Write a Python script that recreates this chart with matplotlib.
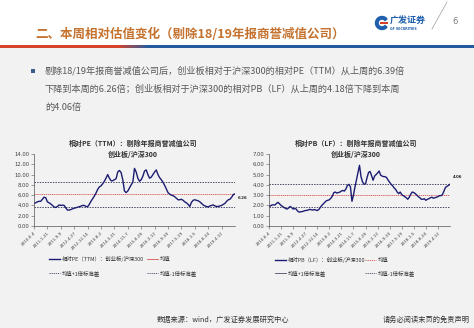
import numpy as np
import matplotlib
matplotlib.use('Agg')
import matplotlib.pyplot as plt
from matplotlib.patches import Rectangle, Wedge

plt.rcParams['font.family'] = ['Noto Sans CJK SC', 'DejaVu Sans']

W, H = 474, 328

# x tick labels (every 33 weeks)
tick_labels = ['2010-6-4', '2011-1-21', '2011-9-9', '2012-4-27', '2012-12-14',
               '2013-8-2', '2014-3-21', '2014-11-7', '2015-6-26', '2016-2-12',
               '2016-9-30', '2017-5-19', '2018-1-5', '2018-8-24', '2019-4-12']

# relative PE (TTM), ChiNext / CSI300
pe_values = [4.4, 4.5, 4.7, 4.8, 4.8, 5.2, 5.6, 5.5, 4.7, 4.5,
             4.3, 4.0, 3.7, 3.6, 3.8, 4.1, 4.0, 4.05, 4.0, 3.5,
             3.1, 3.1, 3.2, 3.35, 3.45, 3.55, 3.65, 3.75, 3.85, 4.0,
             4.0, 3.8, 3.75, 4.2, 4.8, 5.3, 5.8, 6.4, 7.1, 7.6,
             7.8, 8.2, 8.7, 9.3, 10.0, 9.3, 8.8, 8.8, 9.0, 9.2,
             10.5, 10.8, 10.4, 9.0, 6.8, 6.5, 6.8, 7.4, 8.0, 8.5,
             11.2, 10.5, 9.3, 8.7, 9.0, 9.7, 10.7, 10.9, 10.0, 9.3,
             9.5, 10.0, 10.5, 10.9, 10.0, 9.4, 9.0, 8.5, 7.9, 7.2,
             6.5, 6.2, 6.0, 5.9, 5.7, 5.4, 5.1, 5.1, 5.2, 5.0,
             4.7, 4.5, 4.2, 3.8, 4.6, 5.0, 5.1, 5.0, 4.9, 4.7,
             4.4, 4.1, 3.9, 3.8, 3.7, 3.9, 4.0, 4.1, 3.9, 3.8,
             3.8, 3.9, 4.0, 4.2, 4.4, 4.8, 5.1, 5.2, 5.6, 6.1, 6.26]
pe_mean, pe_upper, pe_lower = 6.15, 8.5, 3.6

# relative PB (LF)
pb_values = [1.9, 1.95, 2.05, 2.05, 2.05, 2.2, 2.3, 2.15, 2.0, 1.9,
             1.8, 1.7, 1.65, 1.75, 1.9, 1.8, 1.65, 1.7, 1.65, 1.45,
             1.35, 1.38, 1.4, 1.45, 1.5, 1.52, 1.55, 1.62, 1.58, 1.55,
             1.6, 1.55, 1.5, 1.6, 1.8, 2.0, 2.15, 2.3, 2.45, 2.5,
             2.55, 2.7, 2.9, 3.25, 3.3, 3.2, 3.25, 3.3, 3.4, 3.45,
             3.4, 3.6, 3.95, 4.05, 3.8, 2.4, 3.0, 3.8, 4.5, 5.2,
             5.9, 4.8, 4.3, 4.05, 4.1, 4.7, 5.2, 5.3, 4.9, 4.45,
             4.85, 5.0, 5.15, 5.35, 4.95, 4.85, 4.8, 4.8, 4.7, 4.45,
             4.25, 4.05, 3.9, 3.7, 3.55, 3.3, 3.15, 3.3, 3.05, 2.95,
             2.85, 2.75, 2.6, 2.8, 3.1, 3.3, 3.25, 3.15, 3.0, 2.85,
             2.75, 2.6, 2.6, 2.65, 2.5, 2.6, 2.65, 2.75, 2.8, 2.7,
             2.75, 2.8, 2.85, 2.95, 2.95, 3.05, 3.4, 3.75, 3.85, 3.95, 4.06]
pb_mean, pb_upper, pb_lower = 3.0, 4.1, 1.88

navy = '#1c1c72'
red_line = '#d9534f'
std_color = '#4a4a6a'
grey_txt = '#404040'


def px_rect(x0, y0, x1, y1):
    return [x0 / W, 1 - y1 / H, (x1 - x0) / W, (y1 - y0) / H]


def draw_chart(ax, values, mean, upper, lower, ymax, ystep, label_dy):
    n = len(values) - 1
    x = np.arange(len(values))
    ax.set_facecolor('none')
    ax.axhline(upper, color=std_color, lw=0.7, ls=(0, (1.5, 1.2)))
    ax.axhline(lower, color=std_color, lw=0.7, ls=(0, (1.5, 1.2)))
    ax.axhline(mean, color=red_line, lw=0.6, ls=(0, (1.5, 0.8)))
    ax.plot(x, values, color=navy, lw=1.0)
    ax.set_xlim(0, n)
    ax.set_ylim(0, ymax)
    ax.set_yticks(np.arange(0, ymax + 0.01, ystep))
    ax.set_yticklabels(['%.2f' % v for v in np.arange(0, ymax + 0.01, ystep)],
                       fontsize=3.8, color=grey_txt, family='DejaVu Sans')
    pos = np.arange(0, n, 8)
    ax.set_xticks(pos)
    ax.set_xticklabels(tick_labels, rotation=45, ha='right', rotation_mode='anchor',
                       fontsize=3.0, color=grey_txt, family='DejaVu Sans')
    ax.tick_params(axis='both', length=2, width=0.4, pad=1.5, color='#555555')
    for s in ['top', 'right']:
        ax.spines[s].set_visible(False)
    for s in ['left', 'bottom']:
        ax.spines[s].set_linewidth(0.5)
        ax.spines[s].set_color('#555555')
    ax.annotate('%.2f' % values[-1], (n, values[-1]), xytext=(2, label_dy),
                textcoords='offset points', fontsize=2.8, fontweight='bold',
                color='#222222', family='DejaVu Sans', va='center',
                annotation_clip=False)


fig = plt.figure(figsize=(W / 100, H / 100), dpi=100)
fig.patch.set_facecolor('#f2f2f2')

# page overlay in pixel coordinates
bg = fig.add_axes([0, 0, 1, 1], zorder=0)
bg.set_xlim(0, W)
bg.set_ylim(H, 0)
bg.axis('off')
bg.add_patch(Rectangle((0, 0), W, 45, color='white', lw=0))

# header stripe: red to blue
grad = np.linspace(0, 1, 474)
t = np.clip((grad * W - 118) / 30, 0, 1)
red = np.array([0.84, 0.27, 0.17])
blue = np.array([0.14, 0.36, 0.62])
stripe = (red[None, :] * (1 - t)[:, None] + blue[None, :] * t[:, None])[None, :, :]
bg.imshow(stripe, extent=(0, W, 48, 44.5), aspect='auto', interpolation='bilinear')
bg.set_xlim(0, W)
bg.set_ylim(H, 0)

bg.text(35, 34, '二、本周相对估值变化（剔除18/19年报商誉减值公司）', fontsize=9,
        color='#c4722e', fontweight='bold', va='center', ha='left')

# logo and page number
bg.add_patch(Wedge((382, 23), 6.5, 40, 320, width=2.6, color='#1f5fad'))
bg.add_patch(Rectangle((380, 21.8), 8, 2.4, color='#d8402a', lw=0))
bg.text(390, 20, '广发证券', fontsize=6.5, color='#1f5fad', fontweight='bold',
        style='italic', va='center', ha='left')
bg.text(390, 28.5, 'GF SECURITIES', fontsize=2.3, color='#1f5fad', fontweight='bold',
        va='center', ha='left', family='DejaVu Sans')
bg.plot([447, 432], [2, 29], color='#aaaaaa', lw=0.6)
bg.text(455, 22, '6', fontsize=6, color='#7f7f7f', va='center', ha='center',
        family='DejaVu Sans')

# bullet text
bg.add_patch(Rectangle((31, 69), 4, 4, color='#3b5b8e', lw=0))
lines = ['剔除18/19年报商誉减值公司后，创业板相对于沪深300的相对PE（TTM）从上周的6.39倍',
         '下降到本周的6.26倍；创业板相对于沪深300的相对PB（LF）从上周的4.18倍下降到本周',
         '的4.06倍']
for i, s in enumerate(lines):
    bg.text(45, 71 + i * 18.3, s, fontsize=6.6, color='#595959', va='center', ha='left')

# chart titles
bg.text(133, 143, '相对PE（TTM）：剔除年报商誉减值公司', fontsize=5, color='#333333',
        fontweight='bold', ha='center', va='center')
bg.text(133, 154, '创业板/沪深300', fontsize=5, color='#333333', fontweight='bold',
        ha='center', va='center')
bg.text(356, 143, '相对PB（LF）：剔除年报商誉减值公司', fontsize=5, color='#333333',
        fontweight='bold', ha='center', va='center')
bg.text(356, 154, '创业板/沪深300', fontsize=5, color='#333333', fontweight='bold',
        ha='center', va='center')

ax1 = fig.add_axes(px_rect(34, 154, 235, 226), zorder=1)
draw_chart(ax1, pe_values, pe_mean, pe_upper, pe_lower, 14, 2, -3)
ax2 = fig.add_axes(px_rect(269, 154, 450, 226), zorder=1)
draw_chart(ax2, pb_values, pb_mean, pb_upper, pb_lower, 7, 1, 5)

# legends drawn by hand
def legend_item(x, y, text, color, lw, ls):
    bg.plot([x, x + 11], [y, y], color=color, lw=lw, ls=ls)
    bg.text(x + 13, y, text, fontsize=3.9, color='#333333', va='center', ha='left')

dotted = (0, (1.5, 1.0))
legend_item(49, 259, '相对PE（TTM）：创业板/沪深300', navy, 1.0, '-')
legend_item(147, 259, '均值', red_line, 0.6, '-')
legend_item(49, 273, '均值+1倍标准差', std_color, 0.6, dotted)
legend_item(147, 273, '均值-1倍标准差', std_color, 0.6, dotted)
legend_item(275, 260, '相对PB（LF）：创业板/沪深300', navy, 1.0, '-')
legend_item(365, 260, '均值', red_line, 0.6, dotted)
legend_item(275, 273, '均值+1倍标准差', std_color, 0.6, '-')
legend_item(365, 273, '均值-1倍标准差', std_color, 0.6, dotted)

# footer
bg.text(157, 320, '数据来源：wind，广发证券发展研究中心', fontsize=5.2, color='#333333',
        va='center', ha='left')
bg.text(470, 320, '请务必阅读末页的免责声明', fontsize=5.2, color='#333333',
        va='center', ha='right')

fig.savefig('out.png', dpi=100, facecolor=fig.get_facecolor())
